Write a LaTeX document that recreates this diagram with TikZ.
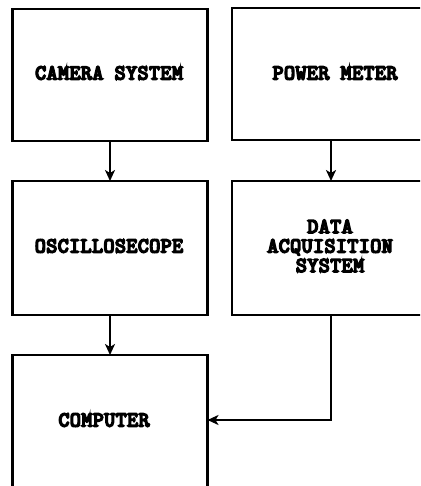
\documentclass[tikz,border=0pt]{standalone}
\usepackage{fontspec}
\newfontfamily\plotfont[FakeBold=8, LetterSpace=3]{Latin Modern Mono}
\usetikzlibrary{arrows.meta}
\begin{document}
\begin{tikzpicture}[x=1pt,y=-1pt,
  box/.style={draw, line width=2.4pt, inner sep=0pt, outer sep=0pt},
  lbl/.style={font=\plotfont\fontsize{21}{19.5}\selectfont, align=center, inner sep=0pt},
  conn/.style={line width=2pt, -{Stealth[length=11pt,width=10pt,inset=3pt]}}]
  \useasboundingbox (0,0) rectangle (420,486);
  \clip (0,0) rectangle (420,486);
  % blocks
  \node[box, minimum width=195pt, minimum height=132pt] (cam) at (110,75) {};
  \node[box, minimum width=198pt, minimum height=132pt] (pow) at (331,74) {};
  \node[box, minimum width=195pt, minimum height=134pt] (osc) at (110,248) {};
  \node[box, minimum width=198pt, minimum height=134pt] (daq) at (331,248) {};
  \node[box, minimum width=195pt, minimum height=145pt] (comp) at (110,427.5) {};
  % labels
  \node[lbl] (camt) at (109,73) {CAMERA SYSTEM};
  \node[lbl] (powt) at (335,73) {POWER METER};
  \node[lbl] (osct) at (109,246) {OSCILLOSECOPE};
  \node[lbl] (daqt) at (330,246) {DATA\\ACQUISITION\\SYSTEM};
  \node[lbl] (compt) at (104,420) {COMPUTER};
  % signal paths
  \draw[conn] (cam.south) -- (osc.north);
  \draw[conn] (pow.south) -- (daq.north);
  \draw[conn] (osc.south) -- (comp.north);
  \draw[conn] (daq.south) |- (comp.east |- compt);
\end{tikzpicture}
\end{document}
